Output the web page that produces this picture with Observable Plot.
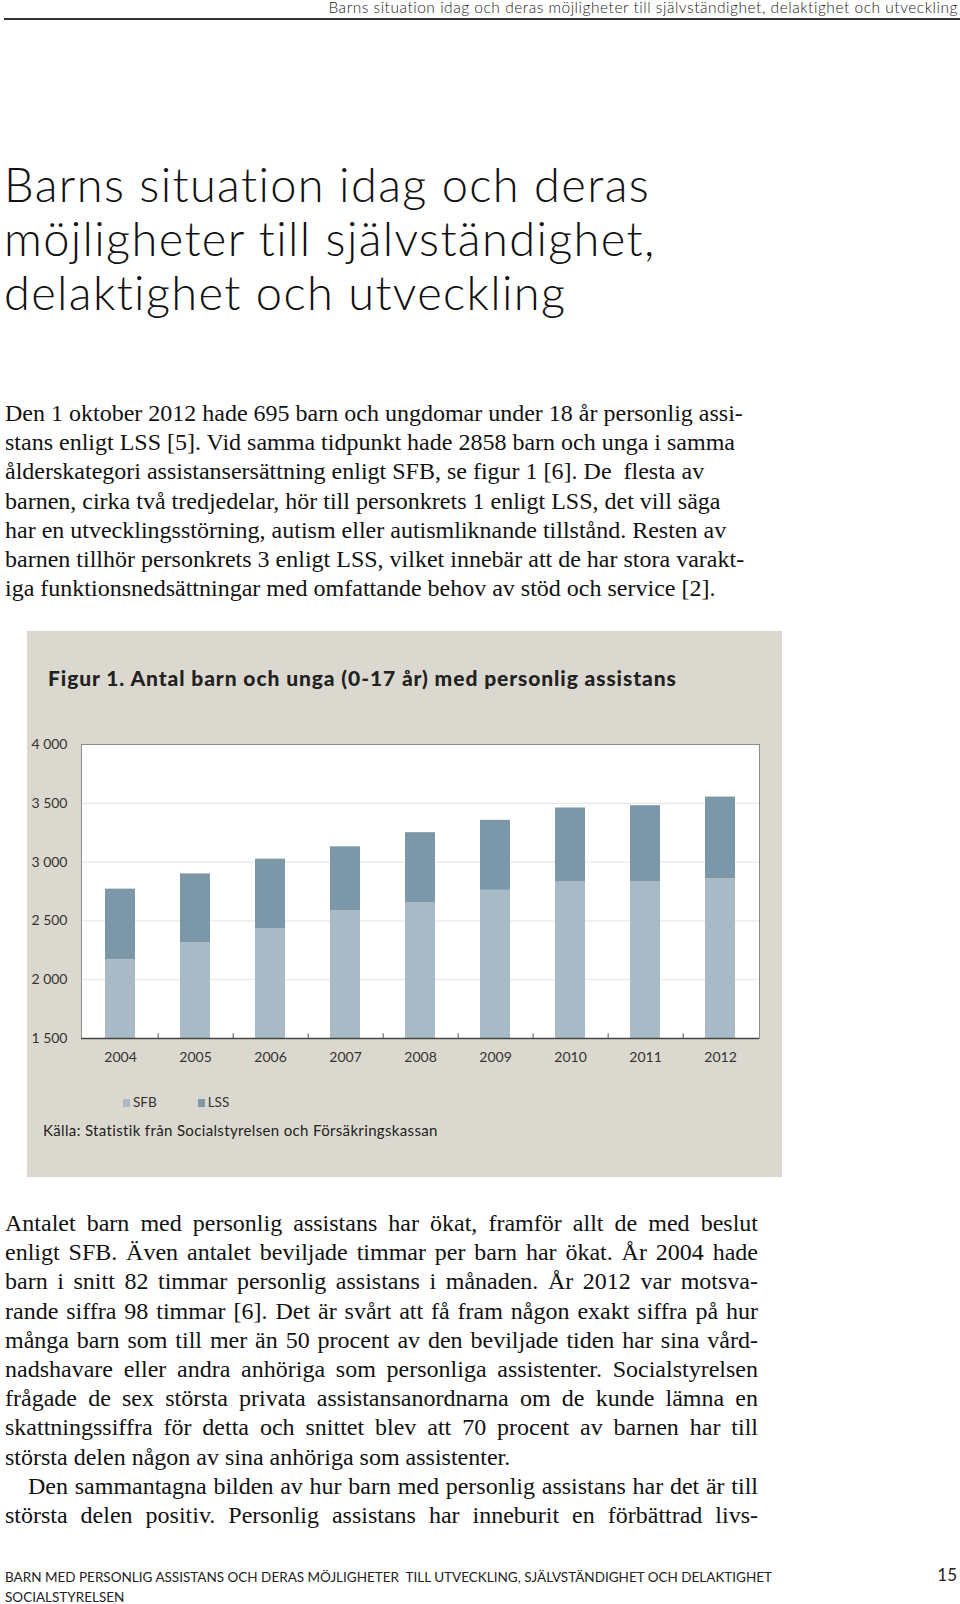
<!DOCTYPE html>
<html>
<head>
<meta charset="utf-8">
<script src="https://cdn.jsdelivr.net/npm/d3@7"></script>
<script src="https://cdn.jsdelivr.net/npm/@observablehq/plot@0.6"></script>
<style>
  html, body { margin: 0; padding: 0; background: #fff; }
  body { width: 960px; height: 1604px; position: relative; overflow: hidden; color: #111; font-variant-ligatures: none; }
  .abs { position: absolute; white-space: nowrap; }
  .gothic { font-family: "Lato", "DejaVu Sans", sans-serif; font-variant-ligatures: none; }
  .serif { font-family: "Liberation Serif", "Times New Roman", serif; font-size: 24px; line-height: 29.2px; }
  .jl { display: block; width: 753px; text-align: justify; text-align-last: justify; white-space: normal; }
  .nl { display: block; white-space: nowrap; }
  #panel { position: absolute; left: 27px; top: 631px; width: 755px; height: 546px; background: #dbd9cf; }
  .sw { display: inline-block; width: 7px; height: 8px; }
</style>
</head>
<body>
<div class="abs gothic" style="right:2px; top:-2px; font-size:15.5px; letter-spacing:0.52px; font-weight:300; color:#222;">Barns situation idag och deras möjligheter till självständighet, delaktighet och utveckling</div>
<div class="abs" style="left:4px; top:18px; width:956px; height:1.5px; background:#333;"></div>

<div class="abs gothic" style="left:4px; top:157px; font-size:47px; letter-spacing:1.35px; line-height:54px; font-weight:300; color:#111;">Barns situation idag och deras<br>möjligheter till självständighet,<br>delaktighet och utveckling</div>

<div class="abs serif" style="left:5px; top:399px;">
<span class="nl">Den 1 oktober 2012 hade 695 barn och ungdomar under 18 år personlig assi-</span>
<span class="nl">stans enligt LSS [5]. Vid samma tidpunkt hade 2858 barn och unga i samma</span>
<span class="nl">ålderskategori assistansersättning enligt SFB, se figur 1 [6]. De&nbsp; flesta av</span>
<span class="nl">barnen, cirka två tredjedelar, hör till personkrets 1 enligt LSS, det vill säga</span>
<span class="nl">har en utvecklingsstörning, autism eller autismliknande tillstånd. Resten av</span>
<span class="nl">barnen tillhör personkrets 3 enligt LSS, vilket innebär att de har stora varakt-</span>
<span class="nl">iga funktionsnedsättningar med omfattande behov av stöd och service [2].</span>
</div>

<div id="panel">
  <div class="abs gothic" style="left:21px; top:34px; font-size:21px; letter-spacing:0.9px; font-weight:900; color:#222;">Figur 1. Antal barn och unga (0-17 år) med personlig assistans</div>
  <div id="chart" style="position:absolute; left:0; top:89px;"></div>
  <div id="legend" class="abs gothic" style="left:96px; top:463px; font-size:13.5px; color:#333;"></div>
  <div class="abs gothic" style="left:16px; top:490px; font-size:15px; letter-spacing:0.35px; color:#222;">Källa: Statistik från Socialstyrelsen och Försäkringskassan</div>
</div>

<div class="abs serif" style="left:5px; top:1209px; width:753px;">
<span class="jl">Antalet barn med personlig assistans har ökat, framför allt de med beslut</span>
<span class="jl">enligt SFB. Även antalet beviljade timmar per barn har ökat. År 2004 hade</span>
<span class="jl">barn i snitt 82 timmar personlig assistans i månaden. År 2012 var motsva-</span>
<span class="jl">rande siffra 98 timmar [6]. Det är svårt att få fram någon exakt siffra på hur</span>
<span class="jl">många barn som till mer än 50 procent av den beviljade tiden har sina vård-</span>
<span class="jl">nadshavare eller andra anhöriga som personliga assistenter. Socialstyrelsen</span>
<span class="jl">frågade de sex största privata assistansanordnarna om de kunde lämna en</span>
<span class="jl">skattningssiffra för detta och snittet blev att 70 procent av barnen har till</span>
<span class="nl">största delen någon av sina anhöriga som assistenter.</span>
<span class="jl" style="padding-left:23px; width:730px;">Den sammantagna bilden av hur barn med personlig assistans har det är till</span>
<span class="jl">största delen positiv. Personlig assistans har inneburit en förbättrad livs-</span>
</div>

<div class="abs gothic" style="left:5px; top:1567px; font-size:13.5px; line-height:20px; color:#222;">BARN MED PERSONLIG ASSISTANS OCH DERAS MÖJLIGHETER&nbsp; TILL UTVECKLING, SJÄLVSTÄNDIGHET OCH DELAKTIGHET<br>SOCIALSTYRELSEN</div>
<div class="abs gothic" style="right:3px; top:1564px; font-size:17px; color:#222;">15</div>

<script>
const years = ["2004", "2005", "2006", "2007", "2008", "2009", "2010", "2011", "2012"];
const sfb = [2170, 2315, 2435, 2585, 2655, 2760, 2835, 2835, 2858];
const lss = [600, 585, 590, 545, 595, 595, 625, 645, 695];
const seriesNames = ["SFB", "LSS"];
const seriesColors = ["#a7bac5", "#7b97a8"];
const yTicks = [1500, 2000, 2500, 3000, 3500, 4000];

const data = years.flatMap((yr, i) => [
  {year: yr, series: "SFB", value: sfb[i]},
  {year: yr, series: "LSS", value: lss[i]}
]);

const W = 755, H = 360, mL = 54, mR = 23, mT = 24, mB = 42;
const step = (W - mL - mR) / years.length;

const chart = Plot.plot({
  width: W, height: H,
  marginLeft: mL, marginRight: mR, marginTop: mT, marginBottom: mB,
  style: {background: "transparent", fontFamily: "Lato, 'DejaVu Sans', sans-serif", fontSize: "14px", color: "#333"},
  x: {domain: years, paddingInner: 0.6, paddingOuter: 0.3, label: null, tickSize: 0, tickPadding: 14},
  y: {domain: [1500, 4000], ticks: yTicks, label: null, tickSize: 0, tickPadding: 14,
      tickFormat: d => d3.format(",")(d).replace(",", " ")},
  color: {domain: seriesNames, range: seriesColors},
  marks: [
    Plot.frame({fill: "white", stroke: "none"}),
    Plot.ruleY(yTicks.slice(1, -1), {stroke: "#e3e3e3", strokeWidth: 1}),
    Plot.barY(data, Plot.stackY({x: "year", y: "value", fill: "series", order: seriesNames, clip: true})),
    Plot.frame({stroke: "#8c8c8c", strokeWidth: 1}),
    Plot.ruleY([1500], {stroke: "#444", strokeWidth: 1.3}),
    Plot.ruleX(years.slice(0, -1), {x: d => d, y1: 1500, y2: 1540, dx: step / 2, stroke: "#555"})
  ]
});
document.getElementById("chart").appendChild(chart);

const legend = document.getElementById("legend");
legend.innerHTML = seriesNames.map((s, i) =>
  `<span style="display:inline-block; margin-right:${i === 0 ? 41 : 0}px;"><span class="sw" style="background:${seriesColors[i]}; margin-right:3px;"></span>${s}</span>`
).join("");
</script>
</body>
</html>
